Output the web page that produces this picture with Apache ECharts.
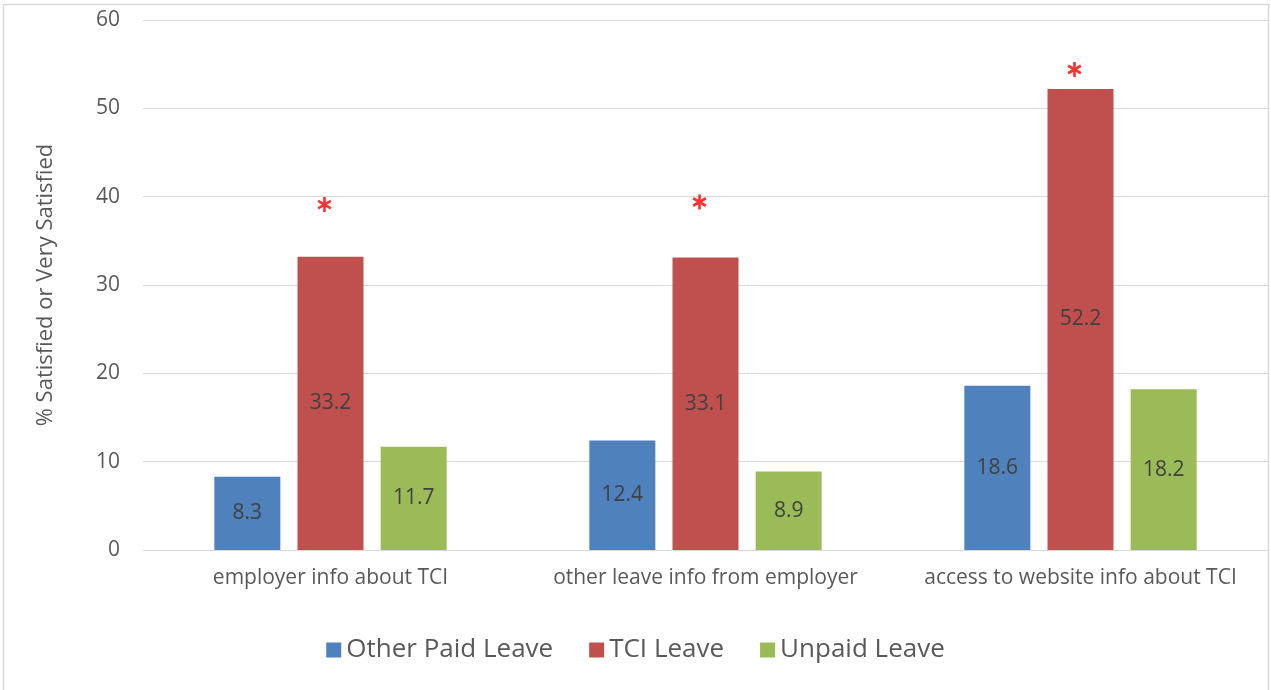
<!DOCTYPE html>
<html>
<head>
<meta charset="utf-8">
<script src="https://cdn.jsdelivr.net/npm/echarts@6/dist/echarts.min.js"></script>
<style>
html,body{margin:0;padding:0;background:#fff;}
#chart{width:1271px;height:690px;}
</style>
</head>
<body>
<div id="chart"></div>
<script>
const categories = ['employer info about TCI', 'other leave info from employer', 'access to website info about TCI'];
const seriesNames = ['Other Paid Leave', 'TCI Leave', 'Unpaid Leave'];
const otherPaid = [8.3, 12.4, 18.6];
const tciLeave = [33.2, 33.1, 52.2];
const unpaid = [11.7, 8.9, 18.2];
const asteriskY = [39.1, 39.4, 54.4];
const yTicks = [0, 10, 20, 30, 40, 50, 60];
const yTitle = '% Satisfied or Very Satisfied';

const FONT = '"Open Sans", "Noto Sans", sans-serif';
const colors = ['#4F81BD', '#C0504D', '#9BBB59'];
const ASTERISK = 'path://M-0.18,-1 L0.18,-1 L0.18,1 L-0.18,1 Z ' +
  'M0.956,0.344 L0.776,0.656 L-0.956,-0.344 L-0.776,-0.656 Z ' +
  'M-0.776,0.656 L-0.956,0.344 L0.776,-0.656 L0.956,-0.344 Z';

function barSeries(name, data, color) {
  return {
    name: name,
    type: 'bar',
    data: data,
    barWidth: 66,
    barGap: '26%',
    itemStyle: { color: color },
    label: {
      show: true,
      position: 'inside',
      fontFamily: FONT,
      fontSize: 21,
      color: '#404040',
      formatter: p => p.value.toFixed(1)
    }
  };
}

const chart = echarts.init(document.getElementById('chart'), null, { renderer: 'canvas' });
chart.setOption({
  animation: false,
  backgroundColor: '#fff',
  textStyle: { fontFamily: FONT },
  grid: { left: 143, right: 3, top: 20, bottom: 140, containLabel: false },
  legend: {
    data: seriesNames,
    bottom: 22,
    left: 'center',
    itemWidth: 15,
    itemHeight: 15,
    itemGap: 36,
    icon: 'rect',
    textStyle: { fontFamily: FONT, fontSize: 26, color: '#595959' }
  },
  xAxis: {
    type: 'category',
    data: categories,
    axisTick: { show: false },
    axisLine: { lineStyle: { color: '#D9D9D9', width: 1 } },
    axisLabel: { fontFamily: FONT, fontSize: 21, color: '#595959', margin: 18, interval: 0, hideOverlap: false }
  },
  yAxis: {
    type: 'value',
    min: yTicks[0],
    max: yTicks[yTicks.length - 1],
    interval: 10,
    name: yTitle,
    nameLocation: 'middle',
    nameGap: 86,
    nameTextStyle: { fontFamily: FONT, fontSize: 22, color: '#595959' },
    axisLine: { show: false },
    axisTick: { show: false },
    splitLine: { lineStyle: { color: '#D9D9D9', width: 1 } },
    axisLabel: { fontFamily: FONT, fontSize: 21, color: '#595959', margin: 23 }
  },
  graphic: [{
    type: 'rect',
    shape: { x: 3.5, y: 4.5, width: 1265, height: 720 },
    style: { fill: 'none', stroke: '#D9D9D9', lineWidth: 1.5 },
    silent: true
  }],
  series: [
    barSeries(seriesNames[0], otherPaid, colors[0]),
    barSeries(seriesNames[1], tciLeave, colors[1]),
    barSeries(seriesNames[2], unpaid, colors[2]),
    {
      type: 'scatter',
      data: asteriskY,
      symbol: ASTERISK,
      symbolSize: [14, 15],
      symbolOffset: [-6, 0],
      itemStyle: { color: '#FF0000' },
      tooltip: { show: false }
    }
  ]
});
</script>
</body>
</html>
